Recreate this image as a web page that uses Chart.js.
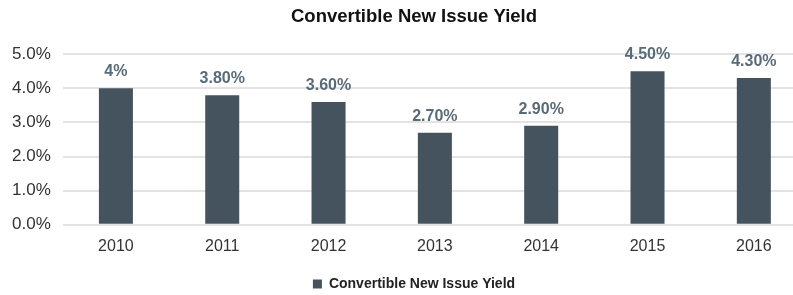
<!DOCTYPE html>
<html>
<head>
<meta charset="utf-8">
<script src="https://cdn.jsdelivr.net/npm/chart.js@4"></script>
<style>
  html, body { margin: 0; padding: 0; background: #fff; overflow: hidden; }
  #wrap { width: 828px; height: 295px; }
</style>
</head>
<body>
<div id="wrap"><canvas id="yieldChart"></canvas></div>
<script>
// chart data
const years = ['2010', '2011', '2012', '2013', '2014', '2015', '2016'];
const yieldValues = [4.0, 3.8, 3.6, 2.7, 2.9, 4.5, 4.3];
const valueLabels = ['4%', '3.80%', '3.60%', '2.70%', '2.90%', '4.50%', '4.30%'];
const seriesName = 'Convertible New Issue Yield';

const FONT = '"Liberation Sans", Arial, sans-serif';

// draw the value text above each bar
const barLabels = {
    id: 'barLabels',
    afterDatasetsDraw(chart) {
        const ctx = chart.ctx;
        const meta = chart.getDatasetMeta(0);
        ctx.save();
        ctx.font = 'bold 16px ' + FONT;
        ctx.fillStyle = '#5a6b78';
        ctx.textAlign = 'center';
        ctx.textBaseline = 'alphabetic';
        meta.data.forEach((bar, i) => {
            ctx.fillText(valueLabels[i], bar.x, bar.y - 12);
        });
        ctx.restore();
    }
};

const ctx = document.getElementById('yieldChart').getContext('2d');
new Chart(ctx, {
    type: 'bar',
    data: {
        labels: years,
        datasets: [{
            label: seriesName,
            data: yieldValues,
            backgroundColor: '#44535e',
            borderWidth: 0,
            barPercentage: 0.32,
            categoryPercentage: 1.0
        }]
    },
    options: {
        responsive: true,
        maintainAspectRatio: false,
        animation: false,
        // legend sits low in the reference, so let the bottom box run a bit past the edge
        layout: { padding: { left: 0, right: 0, top: 0, bottom: -6 } },
        plugins: {
            title: {
                display: true,
                text: seriesName,
                color: '#111',
                font: { family: FONT, size: 18.5, weight: 'bold' },
                padding: { top: 6, bottom: 26 }
            },
            legend: {
                position: 'bottom',
                labels: {
                    color: '#222',
                    font: { family: FONT, size: 14, weight: 'bold' },
                    boxWidth: 9,
                    boxHeight: 9,
                    padding: 0
                }
            },
            tooltip: { enabled: false }
        },
        scales: {
            y: {
                min: 0,
                max: 5,
                ticks: {
                    stepSize: 1,
                    color: '#333',
                    padding: 12,
                    font: { family: FONT, size: 17 },
                    callback: v => v.toFixed(1) + '%'
                },
                grid: { color: '#e3e3e3', lineWidth: 2, drawTicks: false },
                border: { display: false }
            },
            // empty axis on the right, only to leave a margin
            yRight: {
                position: 'right',
                ticks: { display: false },
                grid: { display: false, drawTicks: false },
                border: { display: false },
                afterFit: s => { s.width = 21; }
            },
            x: {
                ticks: {
                    color: '#333',
                    padding: 12,
                    font: { family: FONT, size: 16 }
                },
                grid: { display: false, drawTicks: false },
                border: { display: false },
                afterFit: s => { s.height += 9; }
            }
        }
    },
    plugins: [barLabels]
});
</script>
</body>
</html>
